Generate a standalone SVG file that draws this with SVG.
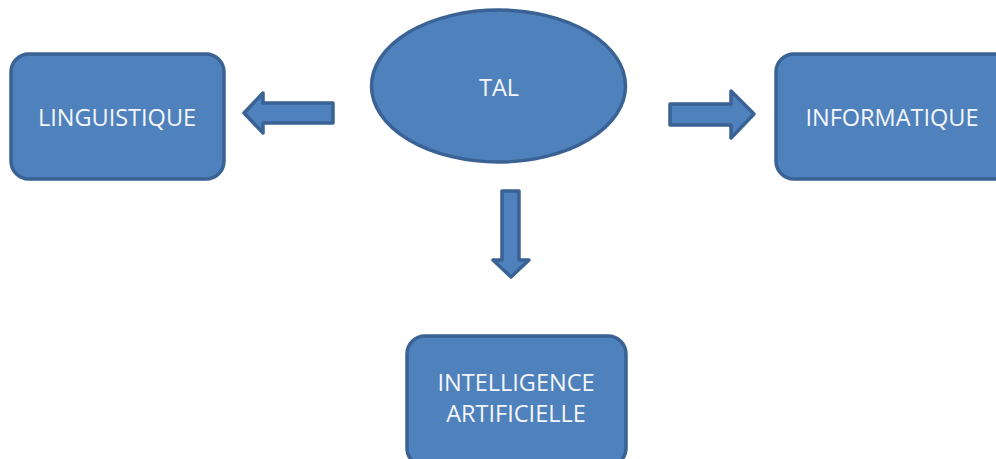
<svg xmlns="http://www.w3.org/2000/svg" width="996" height="459" viewBox="0 0 996 459">
  <style>
    .shape { fill: #4f81bd; stroke: #3a6294; stroke-width: 3.5; stroke-linejoin: round; }
    .label { font-family: "Open Sans", "Liberation Sans", sans-serif; font-size: 23.5px; fill: #f4f6fa; text-anchor: middle; dominant-baseline: central; }
  </style>
  <rect width="996" height="459" fill="#ffffff"/>

  <g id="tal">
    <ellipse class="shape" cx="498.5" cy="86" rx="127" ry="76"/>
    <text class="label" x="499" y="87">TAL</text>
  </g>

  <g id="linguistique">
    <rect class="shape" x="11" y="54" width="213" height="125" rx="18"/>
    <text class="label" x="117" y="117">LINGUISTIQUE</text>
  </g>

  <g id="informatique">
    <rect class="shape" x="776" y="54" width="236" height="125" rx="18"/>
    <text class="label" x="892" y="117">INFORMATIQUE</text>
  </g>

  <g id="intelligence-artificielle">
    <rect class="shape" x="407" y="336" width="219" height="130" rx="18"/>
    <text class="label" x="516" y="382">INTELLIGENCE</text>
    <text class="label" x="516" y="413">ARTIFICIELLE</text>
  </g>

  <g id="connectors">
    <!-- TAL to LINGUISTIQUE -->
    <polygon class="shape" points="333,103 263,103 263,93 244,113 263,133 263,123 333,123"/>
    <!-- TAL to INFORMATIQUE -->
    <polygon class="shape" points="670,104 731,104 731,91 754,114 731,138 731,125 670,125"/>
    <!-- TAL to INTELLIGENCE ARTIFICIELLE -->
    <polygon class="shape" points="502,191 519,191 519,260 529,260 511,277 493,260 502,260"/>
  </g>
</svg>
